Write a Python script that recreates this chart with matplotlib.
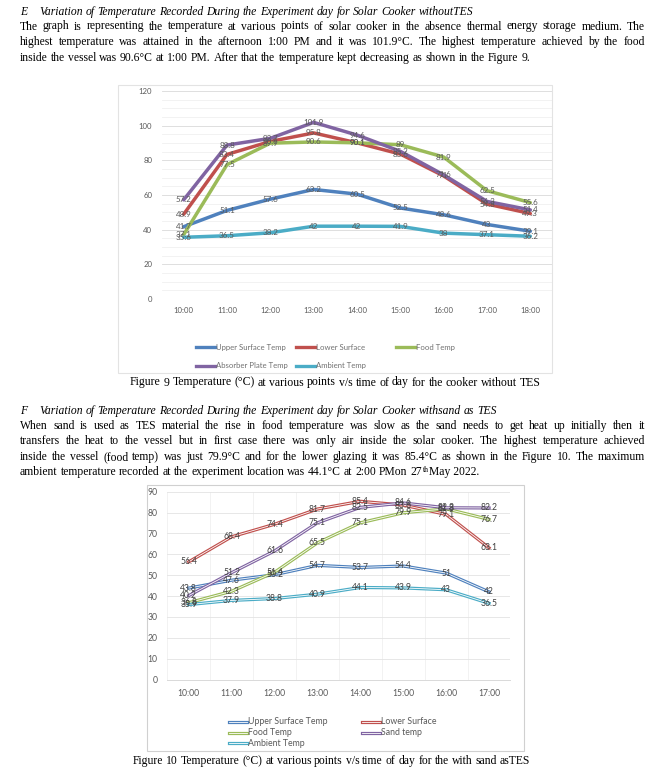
import matplotlib
matplotlib.use('Agg')
import matplotlib.pyplot as plt
from matplotlib.lines import Line2D
from matplotlib.patches import Rectangle
import numpy as np

W, H = 662, 775
SERIF = 'Liberation Serif'
SANS = 'Lato'

# ---- data: Figure 9 (no TES) ----
times9 = ['10:00', '11:00', '12:00', '13:00', '14:00', '15:00', '16:00', '17:00', '18:00']
upper9 = [41.7, 51.1, 57.6, 63.2, 60.5, 52.5, 48.6, 43, 39.1]
lower9 = [48.9, 83.4, 90.9, 95.8, 90.1, 83.6, 71.0, 54.8, 49.3]
food9 = [37.1, 77.5, 89.9, 90.6, 90.1, 89, 81.9, 62.5, 55.6]
absorber9 = [57.2, 88.8, 92.7, 101.9, 94.6, 85.2, 71.6, 56.3, 51.4]
ambient9 = [35.6, 36.5, 38.2, 42, 42, 41.9, 38, 37.1, 36.2]

# ---- data: Figure 10 (sand as TES) ----
times10 = ['10:00', '11:00', '12:00', '13:00', '14:00', '15:00', '16:00', '17:00']
upper10 = [43.8, 47.6, 50.2, 54.7, 53.7, 54.4, 51, 42]
lower10 = [56.4, 68.4, 74.4, 81.7, 85.4, 83.6, 79.1, 63.1]
food10 = [36.8, 42.3, 51.4, 65.5, 75.1, 79.9, 81.8, 76.7]
sand10 = [40.2, 51.2, 61.6, 75.1, 82.5, 84.6, 82.3, 82.2]
ambient10 = [35.9, 37.9, 38.8, 40.9, 44.1, 43.9, 43, 36.5]

BLUE, RED, GREEN, PURPLE, CYAN = '#4F81BD', '#C0504D', '#9BBB59', '#8064A2', '#4BACC6'

fig = plt.figure(figsize=(W / 100, H / 100), dpi=100)
renderer = fig.canvas.get_renderer()


def fx(x):
    return x / W


def fy(y):
    return 1 - y / H


def put_line(x0, x1, y, text, size=8.4, justify=True, style='normal'):
    words = text.split()
    arts = [fig.text(0, 0, w, fontsize=size, family=SERIF, style=style, va='baseline') for w in words]
    widths = [a.get_window_extent(renderer).width for a in arts]
    if justify and len(words) > 1:
        gap = (x1 - x0 - sum(widths)) / (len(words) - 1)
    else:
        gap = size * 0.25 * 100 / 72
    x = x0
    for a, w in zip(arts, widths):
        a.set_position((fx(x), fy(y)))
        x += w + gap
    return x - gap


# ---- section E text ----
fig.text(fx(20), fy(15), 'E', fontsize=8.4, family=SERIF, style='italic', va='baseline')
put_line(39, 0, 15, 'Variation of Temperature Recorded During the Experiment day for Solar Cooker withoutTES',
         justify=False, style='italic')
e_lines = [
    'The graph is representing the temperature at various points of solar cooker in the absence thermal energy storage medium. The',
    'highest temperature was attained in the afternoon 1:00 PM and it was 101.9°C. The highest temperature achieved by the food',
    'inside the vessel was 90.6°C at 1:00 PM. After that the temperature kept decreasing as shown in the Figure 9.',
]
for i, ln in enumerate(e_lines):
    put_line(20, 645, 29.5 + 15.7 * i, ln, justify=(i < 2))

# ---- chart 1 ----
fig.add_artist(Rectangle((fx(118), fy(373)), (552 - 118) / W, (373 - 85) / H,
                         transform=fig.transFigure, fill=False, edgecolor='#E3E3E3', lw=0.8))
ax1 = fig.add_axes([fx(162), fy(299), (552 - 162) / W, (299 - 91) / H])
x9 = np.arange(len(times9))
series9 = [(upper9, BLUE), (lower9, RED), (food9, GREEN), (absorber9, PURPLE), (ambient9, CYAN)]
for vals, c in series9:
    ax1.plot(x9, vals, color=c, lw=2.5, solid_capstyle='round', zorder=3)
for vals, c in series9:
    for xi, v in zip(x9, vals):
        ax1.text(xi, v, f'{v:g}', ha='center', va='center', fontsize=5.8, color='#595959',
                 family=SANS, zorder=4)
ax1.set_xlim(-0.5, len(times9) - 0.5)
ax1.set_ylim(0, 120)
ax1.set_yticks(np.arange(0, 121, 20))
ax1.set_yticks(np.arange(0, 121, 5), minor=True)
ax1.set_xticks(x9)
ax1.set_xticklabels(times9)
ax1.grid(axis='y', which='major', color='#D9D9D9', lw=0.6)
ax1.grid(axis='y', which='minor', color='#F0F0F0', lw=0.6)
ax1.set_axisbelow(True)
for s in ax1.spines.values():
    s.set_visible(False)
ax1.tick_params(which='both', length=0, labelsize=5.6, labelcolor='#595959', pad=6)
ax1.tick_params(axis='y', pad=7)
for lab in ax1.get_xticklabels() + ax1.get_yticklabels():
    lab.set_family(SANS)

legend9 = [('Upper Surface Temp', BLUE, 196, 347.3), ('Lower Surface', RED, 296, 347.3),
           ('Food Temp', GREEN, 396, 347.3), ('Absorber Plate Temp', PURPLE, 196, 366),
           ('Ambient Temp', CYAN, 296, 366)]
for name, c, lx, ly in legend9:
    fig.add_artist(Line2D([fx(lx), fx(lx + 19)], [fy(ly), fy(ly)], color=c, lw=2.4,
                          transform=fig.transFigure))
    fig.text(fx(lx + 20), fy(ly), name, fontsize=5.6, color='#707070', family=SANS, va='center')

put_line(130, 0, 385.5, 'Figure 9  Temperature (°C) at various points v/s time of day for the cooker without TES',
         size=8.5, justify=False)

# ---- section F text ----
fig.text(fx(20), fy(414.5), 'F', fontsize=8.4, family=SERIF, style='italic', va='baseline')
put_line(39, 0, 414.5, 'Variation of Temperature Recorded During the Experiment day for Solar Cooker withsand as TES',
         justify=False, style='italic')
f_lines = [
    'When sand is used as TES material the rise in food temperature was slow as the sand needs to get heat up initially then it',
    'transfers the heat to the vessel but in first case there was only air inside the solar cooker. The highest temperature achieved',
    'inside the vessel (food temp) was just 79.9°C and for the lower glazing it was 85.4°C as shown in the Figure 10. The maximum',
]
for i, ln in enumerate(f_lines):
    put_line(20, 645, 429 + 15.4 * i, ln)
xe = put_line(20, 0, 475.2, 'ambient temperature recorded at the experiment location was 44.1°C at 2:00 PMon 27',
              justify=False)
t_th = fig.text(fx(xe + 0.5), fy(471.5), 'th', fontsize=5.5, family=SERIF, va='baseline')
wth = t_th.get_window_extent(renderer).width
fig.text(fx(xe + 0.5 + wth), fy(475.2), 'May 2022.', fontsize=8.4, family=SERIF, va='baseline')

# ---- chart 2 ----
fig.add_artist(Rectangle((fx(147), fy(751)), (524 - 147) / W, (751 - 485) / H,
                         transform=fig.transFigure, fill=False, edgecolor='#D0D0D0', lw=0.8))
ax2 = fig.add_axes([fx(167.3), fy(679.5), (510.5 - 167.3) / W, (679.5 - 491.7) / H])
x10 = np.arange(len(times10))
series10 = [(upper10, BLUE), (lower10, RED), (food10, GREEN), (sand10, PURPLE), (ambient10, CYAN)]
for vals, c in series10:
    ax2.plot(x10, vals, color=c, lw=2.3, zorder=3)
    ax2.plot(x10, vals, color='white', lw=0.6, zorder=3)
for vals, c in series10:
    for xi, v in zip(x10, vals):
        ax2.text(xi, v, f'{v:g}', ha='center', va='center', fontsize=6.2, color='#404040',
                 family=SANS, zorder=4)
ax2.set_xlim(-0.5, len(times10) - 0.5)
ax2.set_ylim(0, 90)
ax2.set_yticks(np.arange(0, 91, 10))
ax2.set_xticks(x10)
ax2.set_xticklabels(times10)
ax2.set_xticks(np.arange(-0.5, len(times10), 1), minor=True)
ax2.grid(axis='y', which='major', color='#E3E3E3', lw=0.6)
ax2.grid(axis='x', which='minor', color='#F0F0F0', lw=0.6)
ax2.set_axisbelow(True)
for s in ['top', 'right', 'left']:
    ax2.spines[s].set_visible(False)
ax2.spines['bottom'].set_color('#D9D9D9')
ax2.spines['bottom'].set_linewidth(0.7)
ax2.tick_params(which='both', length=0, labelsize=6.2, labelcolor='#595959', pad=7)
for lab in ax2.get_xticklabels() + ax2.get_yticklabels():
    lab.set_family(SANS)

legend10 = [('Upper Surface Temp', BLUE, 229, 721.7), ('Lower Surface', RED, 362, 721.7),
            ('Food Temp', GREEN, 229, 732.7), ('Sand temp', PURPLE, 362, 732.7),
            ('Ambient Temp', CYAN, 229, 743.3)]
for name, c, lx, ly in legend10:
    fig.add_artist(Line2D([fx(lx), fx(lx + 18)], [fy(ly), fy(ly)], color=c, lw=2.3,
                          transform=fig.transFigure))
    fig.add_artist(Line2D([fx(lx), fx(lx + 18)], [fy(ly), fy(ly)], color='white', lw=0.6,
                          transform=fig.transFigure))
    fig.text(fx(lx + 19), fy(ly), name, fontsize=6.3, color='#595959', family=SANS, va='center')

put_line(133, 0, 764, 'Figure 10 Temperature (°C) at various points v/s time of day for the with sand asTES',
         size=8.4, justify=False)

fig.savefig('out.png', dpi=100)
